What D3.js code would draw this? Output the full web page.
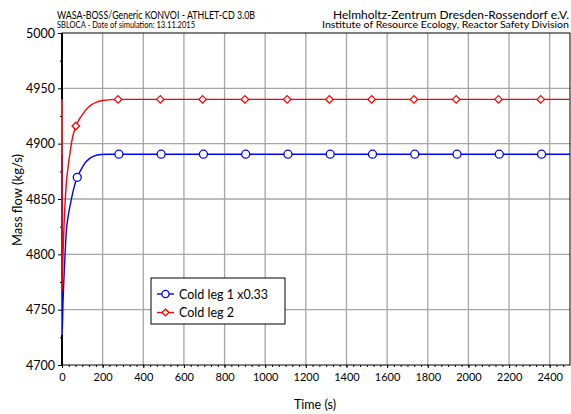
<!DOCTYPE html>
<html>
<head>
<meta charset="utf-8">
<script src="https://cdn.jsdelivr.net/npm/d3@7"></script>
<style>
  body { margin: 0; background: #fff; }
  svg { display: block; font-family: Lato, "Open Sans", sans-serif; }
</style>
</head>
<body>
<div id="chart"></div>
<script>
// curve samples (time in s, mass flow in kg/s)
const coldLeg1T = [0, 0.5, 5, 10, 15, 21, 30, 43, 60, 75, 95, 111, 135, 160, 190, 220, 260, 2500];
const coldLeg1V = [4890, 4727, 4757, 4780, 4800, 4820, 4834, 4847, 4861, 4869.6, 4877, 4882, 4886.5, 4889, 4890.2, 4890.5, 4890.5, 4890.5];
const coldLeg2T = [0, 0.5, 5, 10, 20, 30, 38, 49, 68, 85, 103, 125, 144, 170, 200, 240, 275, 2500];
const coldLeg2V = [4940, 4767, 4800, 4826, 4861, 4879, 4890, 4903, 4916, 4922, 4927, 4932, 4935, 4937.5, 4939, 4939.8, 4940, 4940];

// marker positions
const marker1T = [75, 280, 488, 696, 904, 1112, 1320, 1528, 1736, 1944, 2152, 2360];
const marker1V = [4869.6, 4890.5, 4890.5, 4890.5, 4890.5, 4890.5, 4890.5, 4890.5, 4890.5, 4890.5, 4890.5, 4890.5];
const marker2T = [68, 276, 484, 692, 900, 1108, 1316, 1524, 1732, 1940, 2148, 2356];
const marker2V = [4916, 4940, 4940, 4940, 4940, 4940, 4940, 4940, 4940, 4940, 4940, 4940];

const xTicks = d3.range(0, 2401, 200);
const yTicks = [4700, 4750, 4800, 4850, 4900, 4950, 5000];
const legendLabels = ["Cold leg 1 x0.33", "Cold leg 2"];

const W = 571, H = 414;
const svg = d3.select("#chart").append("svg").attr("width", W).attr("height", H);

const x = d3.scaleLinear().domain([0, 2500]).range([62, 570]);
const y = d3.scaleLinear().domain([4700, 5000]).range([365, 33]);

// header texts
const hdr = svg.append("g").attr("fill", "#000");
hdr.append("text").attr("x", 57).attr("y", 18.5).attr("font-size", 10.5)
  .attr("textLength", 198).attr("lengthAdjust", "spacingAndGlyphs")
  .text("WASA-BOSS/Generic KONVOI - ATHLET-CD 3.0B");
hdr.append("text").attr("x", 57).attr("y", 27.5).attr("font-size", 8.5)
  .attr("textLength", 138).attr("lengthAdjust", "spacingAndGlyphs")
  .text("SBLOCA - Date of simulation: 13.11.2015");
hdr.append("text").attr("x", 333).attr("y", 18.5).attr("font-size", 10.5)
  .attr("textLength", 236).attr("lengthAdjust", "spacingAndGlyphs")
  .text("Helmholtz-Zentrum Dresden-Rossendorf e.V.");
hdr.append("text").attr("x", 322).attr("y", 27.5).attr("font-size", 8.5)
  .attr("textLength", 247).attr("lengthAdjust", "spacingAndGlyphs")
  .text("Institute of Resource Ecology, Reactor Safety Division");

// grid
const grid = svg.append("g").attr("stroke", "#a6a6a6").attr("stroke-width", 1.3);
grid.selectAll(".vg").data(xTicks.filter(d => d > 0)).enter().append("line")
  .attr("x1", d => x(d)).attr("x2", d => x(d)).attr("y1", y(5000)).attr("y2", y(4700));
grid.selectAll(".hg").data(yTicks.filter(d => d > 4700 && d < 5000)).enter().append("line")
  .attr("x1", x(0)).attr("x2", x(2500)).attr("y1", d => y(d)).attr("y2", d => y(d));

// frame
svg.append("rect").attr("x", x(0)).attr("y", y(5000))
  .attr("width", x(2500) - x(0)).attr("height", y(4700) - y(5000))
  .attr("fill", "none").attr("stroke", "#000").attr("stroke-width", 1);

// axes
const xAxis = svg.append("g").attr("transform", `translate(0,${y(4700)})`)
  .call(d3.axisBottom(x).tickValues(xTicks).tickSize(3).tickPadding(5).tickFormat(d3.format("d")));
const xMinor = svg.append("g").attr("transform", `translate(0,${y(4700)})`)
  .call(d3.axisBottom(x).tickValues(d3.range(0, 2500, 200 / 6)).tickSize(2).tickFormat(""));
const yAxis = svg.append("g").attr("transform", `translate(${x(0)},0)`)
  .call(d3.axisLeft(y).tickValues(yTicks).tickSize(4).tickPadding(3).tickFormat(d3.format("d")));
const yMinor = svg.append("g").attr("transform", `translate(${x(0)},0)`)
  .call(d3.axisLeft(y).tickValues(d3.range(4725, 5000, 50)).tickSize(2).tickFormat(""));
[xAxis, xMinor, yAxis, yMinor].forEach(g => g.select(".domain").remove());
xAxis.selectAll("text").attr("font-size", 11).attr("font-family", "Lato").attr("fill", "#000");
yAxis.selectAll("text").attr("font-size", 12.5).attr("font-family", "Lato").attr("fill", "#000");
svg.selectAll(".tick line").attr("stroke", "#000");

// series
const line = d3.line().x(d => x(d[0])).y(d => y(d[1])).curve(d3.curveMonotoneX);
const plot = svg.append("g");
plot.append("path").datum(d3.zip(coldLeg1T, coldLeg1V))
  .attr("d", line).attr("fill", "none").attr("stroke", "#0000ff").attr("stroke-width", 1.4);
plot.append("path").datum(d3.zip(coldLeg2T, coldLeg2V))
  .attr("d", line).attr("fill", "none").attr("stroke", "#ff0000").attr("stroke-width", 1.4);

// left axis line drawn under the t=0 jumps look
svg.append("line").attr("x1", x(0)).attr("x2", x(0)).attr("y1", y(4700)).attr("y2", y(4727))
  .attr("stroke", "#000").attr("stroke-width", 2);
svg.append("line").attr("x1", x(0)).attr("x2", x(0)).attr("y1", y(4940)).attr("y2", y(5000))
  .attr("stroke", "#000").attr("stroke-width", 2);

const diamond = d3.symbol().type(d3.symbolDiamond2).size(36);
plot.selectAll(".m1").data(d3.zip(marker1T, marker1V)).enter().append("circle")
  .attr("cx", d => x(d[0])).attr("cy", d => y(d[1])).attr("r", 4)
  .attr("fill", "#fff").attr("stroke", "#0000ff").attr("stroke-width", 1.3);
plot.selectAll(".m2").data(d3.zip(marker2T, marker2V)).enter().append("path")
  .attr("d", diamond).attr("transform", d => `translate(${x(d[0])},${y(d[1])})`)
  .attr("fill", "#fff").attr("stroke", "#ff0000").attr("stroke-width", 1.3);

// axis titles
svg.append("text").attr("x", 315).attr("y", 409).attr("text-anchor", "middle")
  .attr("font-size", 12.5).text("Time (s)");
svg.append("text").attr("transform", "translate(22,200) rotate(-90)").attr("text-anchor", "middle")
  .attr("font-size", 13).text("Mass flow (kg/s)");

// legend
const lg = svg.append("g");
lg.append("rect").attr("x", 151).attr("y", 278).attr("width", 134).attr("height", 46)
  .attr("fill", "#fff").attr("stroke", "#000").attr("stroke-width", 1);
const colors = ["#0000ff", "#ff0000"];
legendLabels.forEach((lab, i) => {
  const cy = 294 + i * 18.5;
  lg.append("line").attr("x1", 157).attr("x2", 174).attr("y1", cy).attr("y2", cy)
    .attr("stroke", colors[i]).attr("stroke-width", 1.4);
  if (i === 0) {
    lg.append("circle").attr("cx", 165.5).attr("cy", cy).attr("r", 3.6)
      .attr("fill", "#fff").attr("stroke", colors[i]).attr("stroke-width", 1.3);
  } else {
    lg.append("path").attr("d", d3.symbol().type(d3.symbolDiamond2).size(30))
      .attr("transform", `translate(165.5,${cy})`)
      .attr("fill", "#fff").attr("stroke", colors[i]).attr("stroke-width", 1.3);
  }
  lg.append("text").attr("x", 179).attr("y", cy + 4.5).attr("font-size", 12.5).text(lab);
});
</script>
</body>
</html>
